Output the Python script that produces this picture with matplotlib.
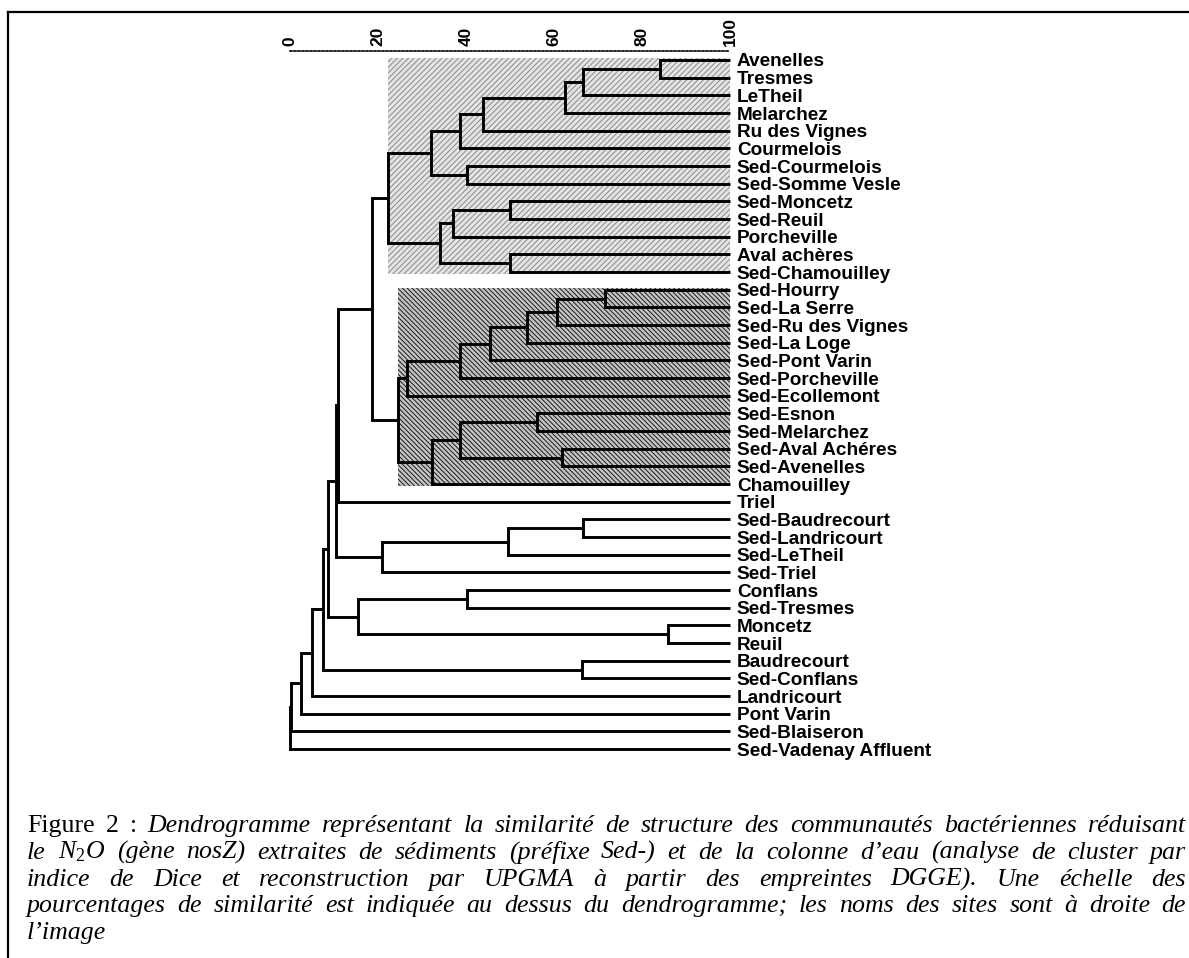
import matplotlib
matplotlib.use("Agg")
import matplotlib.pyplot as plt
from matplotlib.patches import Rectangle
from matplotlib.lines import Line2D

plt.rcParams["mathtext.fontset"] = "custom"
plt.rcParams["mathtext.it"] = "Liberation Serif:italic"
plt.rcParams["mathtext.rm"] = "Liberation Serif"
plt.rcParams["hatch.linewidth"] = 0.7

# leaves, top to bottom
leaf_names = [
    "Avenelles", "Tresmes", "LeTheil", "Melarchez", "Ru des Vignes", "Courmelois",
    "Sed-Courmelois", "Sed-Somme Vesle", "Sed-Moncetz", "Sed-Reuil", "Porcheville",
    "Aval achères", "Sed-Chamouilley", "Sed-Hourry", "Sed-La Serre",
    "Sed-Ru des Vignes", "Sed-La Loge", "Sed-Pont Varin", "Sed-Porcheville",
    "Sed-Ecollemont", "Sed-Esnon", "Sed-Melarchez", "Sed-Aval Achéres",
    "Sed-Avenelles", "Chamouilley", "Triel", "Sed-Baudrecourt", "Sed-Landricourt",
    "Sed-LeTheil", "Sed-Triel", "Conflans", "Sed-Tresmes", "Moncetz", "Reuil",
    "Baudrecourt", "Sed-Conflans", "Landricourt", "Pont Varin", "Sed-Blaiseron",
    "Sed-Vadenay Affluent",
]
n_leaves = len(leaf_names)

# UPGMA merges, linkage style: ids >= 40 refer to earlier merges (40 = first row)
merge_a = [0, 40, 41, 42, 43, 6, 44, 8, 47, 11, 48, 46,
           13, 52, 53, 54, 55, 56, 20, 22, 58, 60, 57, 51, 63,
           26, 65, 66, 64, 30, 32, 69, 68, 34, 72, 74, 75, 76, 77]
merge_b = [1, 2, 3, 4, 5, 7, 45, 9, 10, 12, 49, 50,
           14, 15, 16, 17, 18, 19, 21, 23, 59, 24, 61, 62, 25,
           27, 28, 29, 67, 31, 33, 70, 71, 35, 73, 36, 37, 38, 39]
merge_sim = [84.0, 66.6, 62.5, 43.9, 38.6, 40.2, 32.0, 50.0, 37.0, 50.0, 34.1, 22.3,
             71.6, 60.7, 53.8, 45.5, 38.6, 26.6, 56.1, 61.8, 38.6, 32.3, 24.5, 18.6, 11.0,
             66.6, 49.5, 20.9, 10.4, 40.2, 86.0, 15.5, 8.6, 66.4, 7.5, 5.0, 2.5, 0.3, 0.0]

scale_ticks = [0, 20, 40, 60, 80, 100]

# shaded groups: (node id, fill, hatch, hatch colour)
shaded_nodes = [51, 62]
shaded_fill = ["#e4e4e4", "#c4c4c4"]
shaded_hatch = ["//////", "\\\\\\\\\\\\\\"]
shaded_hatch_col = ["#8a8a8a", "#1a1a1a"]

caption_lines = [
    "Figure 2 : Dendrogramme représentant la similarité de structure des communautés bactériennes réduisant",
    "le N$_2$O (gène nosZ) extraites de sédiments (préfixe Sed-) et de la colonne d’eau (analyse de cluster par",
    "indice de Dice et reconstruction par UPGMA à partir des empreintes DGGE). Une échelle des",
    "pourcentages de similarité est indiquée au dessus du dendrogramme; les noms des sites sont à droite de",
    "l’image",
]

W, H = 1189, 958
fig = plt.figure(figsize=(W / 100, H / 100), dpi=100)

# axes: similarity 0..100 -> px 290..730, leaf rows 17.67 px apart from y=60
row = 17.67
top_px = 60 - row / 2
bot_px = 60 + row * (n_leaves - 1) + row / 2
ax = fig.add_axes([290 / W, 1 - bot_px / H, 440 / W, (bot_px - top_px) / H])
ax.set_xlim(0, 100)
ax.set_ylim(n_leaves - 0.5, -0.5)

# node positions
node_x = {i: 100.0 for i in range(n_leaves)}
node_y = {i: float(i) for i in range(n_leaves)}
node_leaves = {i: [i] for i in range(n_leaves)}
for k, (a, b, s) in enumerate(zip(merge_a, merge_b, merge_sim)):
    nid = n_leaves + k
    node_x[nid] = s
    node_y[nid] = (node_y[a] + node_y[b]) / 2
    node_leaves[nid] = node_leaves[a] + node_leaves[b]

# shaded boxes behind the branches
for nid, fc, hat, hc in zip(shaded_nodes, shaded_fill, shaded_hatch, shaded_hatch_col):
    lv = node_leaves[nid]
    r = Rectangle((node_x[nid], min(lv) - 0.12), 100 - node_x[nid], max(lv) - min(lv) + 0.22,
                  facecolor=fc, edgecolor=hc, hatch=hat, linewidth=0, zorder=1)
    ax.add_patch(r)

for k, (a, b, s) in enumerate(zip(merge_a, merge_b, merge_sim)):
    ax.plot([node_x[a], s, s, node_x[b]], [node_y[a], node_y[a], node_y[b], node_y[b]],
            color="black", lw=2.1, solid_joinstyle="miter", solid_capstyle="butt",
            zorder=3, clip_on=False)

# similarity scale on top
for sp in ["left", "right", "bottom"]:
    ax.spines[sp].set_visible(False)
ax.spines["top"].set_linestyle((0, (1.2, 1.2)))
ax.spines["top"].set_linewidth(1.2)
ax.xaxis.tick_top()
ax.set_xticks(scale_ticks)
ax.set_xticklabels([str(t) for t in scale_ticks], rotation=90, fontsize=12.5,
                   fontweight="bold", family="Liberation Sans")
ax.tick_params(axis="x", length=0, pad=4)

# site names on the right
ax.yaxis.tick_right()
ax.set_yticks(range(n_leaves))
ax.set_yticklabels(leaf_names, fontsize=13.7, fontweight="bold", family="Liberation Sans")
ax.tick_params(axis="y", length=0, pad=5)
ax.patch.set_alpha(0)

# frame (top and left edges visible in the crop)
fig.add_artist(Line2D([8 / W, 1], [1 - 12 / H, 1 - 12 / H], color="black", lw=1.6))
fig.add_artist(Line2D([8 / W, 8 / W], [1 - 12 / H, 0], color="black", lw=1.6))

# justified caption
renderer = fig.canvas.get_renderer()
cap_size = 18.6
left_px, right_px = 27, 1186
base0, lead = 832, 26.8
for li, line in enumerate(caption_lines):
    words = line.split(" ")
    texts = []
    for wi, w in enumerate(words):
        style = "normal" if (li == 0 and wi < 3) else "italic"
        t = fig.text(0, 0, w, fontsize=cap_size, family="Liberation Serif", style=style,
                     va="baseline", ha="left")
        texts.append(t)
    widths = [t.get_window_extent(renderer).width for t in texts]
    if li < len(caption_lines) - 1 and len(words) > 1:
        gap = (right_px - left_px - sum(widths)) / (len(words) - 1)
    else:
        gap = cap_size * 100 / 72 * 0.25
    x = left_px
    y = 1 - (base0 + li * lead) / H
    for t, w in zip(texts, widths):
        t.set_position((x / W, y))
        x += w + gap

fig.savefig("out.png", dpi=100)
